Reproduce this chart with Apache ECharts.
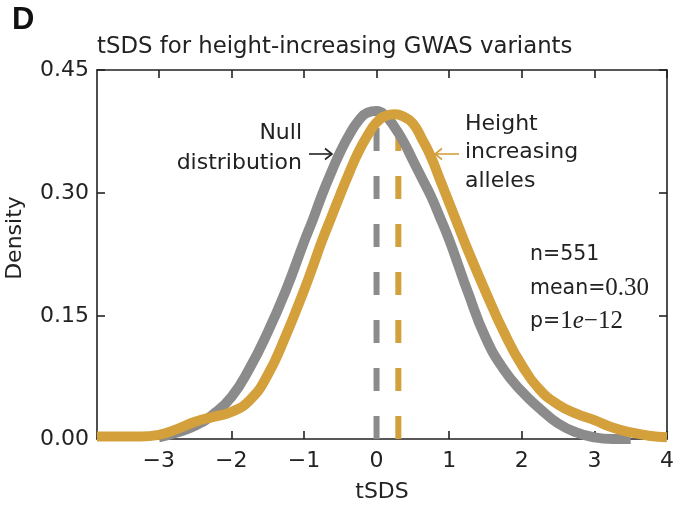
<!DOCTYPE html>
<html>
<head>
<meta charset="utf-8">
<title>tSDS for height-increasing GWAS variants</title>
<script src="https://cdn.jsdelivr.net/npm/echarts@6/dist/echarts.min.js"></script>
<style>
  html, body { margin: 0; padding: 0; background: #fff; }
  #chart { width: 681px; height: 508px; }
</style>
</head>
<body>
<div id="chart"></div>
<script>
// tSDS grid shared by both density curves (finer around the peaks)
const tsds = [-3.85, -3.5, -3.25, -3.0, -2.75, -2.5, -2.25, -2.0, -1.75, -1.5, -1.25,
  -1.0, -0.875, -0.75, -0.625, -0.5, -0.375, -0.25, -0.125, 0, 0.125, 0.25, 0.375, 0.5, 0.625, 0.75, 0.875, 1.0, 1.125,
  1.25, 1.5, 1.75, 2.0, 2.25, 2.5, 2.75, 3.0, 3.25, 3.5, 3.75, 4.0]
// null distribution density (gray), null where the curve is not drawn
const nullDensity = [null, null, null, 0.002, 0.008, 0.016, 0.030, 0.051, 0.086, 0.130, 0.181,
  0.240, 0.268, 0.298, 0.325, 0.350, 0.371, 0.388, 0.398, 0.400, 0.394, 0.380, 0.362, 0.340, 0.318, 0.296, 0.270, 0.243, 0.212,
  0.181, 0.124, 0.085, 0.058, 0.037, 0.019, 0.008, 0.002, 0, 0, null, null]
// height increasing alleles density (gold)
const heightDensity = [0.003, 0.003, 0.003, 0.005, 0.012, 0.021, 0.027, 0.033, 0.047, 0.078, 0.126,
  0.181, 0.211, 0.242, 0.270, 0.298, 0.325, 0.350, 0.370, 0.386, 0.394, 0.396, 0.393, 0.385, 0.366, 0.344, 0.316, 0.288, 0.260,
  0.232, 0.180, 0.131, 0.090, 0.060, 0.042, 0.031, 0.023, 0.014, 0.008, 0.004, 0.002]
// means (dashed lines) and how high the dashes reach
const meanNames = ['Null mean', 'Height mean']
const meanValues = [0, 0.30]
const meanTops = [0.38, 0.38]

const xTicks = [-3, -2, -1, 0, 1, 2, 3, 4]

const GRAY = '#8b8b8b'
const GOLD = '#d3a03b'
const INK = '#222'
const FONT = 'DejaVu Sans, Liberation Sans, Arial, sans-serif'
const MATH = 'Liberation Serif, DejaVu Serif, serif'

const chart = echarts.init(document.getElementById('chart'), null, { renderer: 'canvas' })

const pairs = (ys) => tsds.map((x, i) => [x, ys[i]])
const minus = (v) => (v < 0 ? '\u2212' + Math.abs(v) : String(v))

const frameLine = { show: true, onZero: false, lineStyle: { color: INK, width: 1.6 } }
const frameTick = { show: true, inside: true, length: 8, lineStyle: { color: INK, width: 1.6 } }

chart.setOption({
  animation: false,
  backgroundColor: '#fff',
  textStyle: { fontFamily: FONT },
  grid: { left: 97, right: 14, top: 70, bottom: 69 },
  xAxis: [
    {
      type: 'value',
      min: -3.85,
      max: 4,
      name: 'tSDS',
      nameLocation: 'middle',
      nameGap: 42,
      nameTextStyle: { fontSize: 22, color: INK, fontFamily: FONT },
      axisLine: frameLine,
      axisTick: { ...frameTick, customValues: xTicks },
      axisLabel: {
        customValues: xTicks,
        formatter: minus,
        fontSize: 22,
        color: INK,
        margin: 11,
        fontFamily: FONT
      },
      splitLine: { show: false }
    },
    {
      type: 'value',
      position: 'top',
      min: -3.85,
      max: 4,
      axisLine: frameLine,
      axisTick: { ...frameTick, customValues: xTicks },
      axisLabel: { show: false },
      splitLine: { show: false }
    }
  ],
  yAxis: [
    {
      type: 'value',
      min: 0,
      max: 0.45,
      interval: 0.15,
      axisLine: frameLine,
      axisTick: frameTick,
      axisLabel: {
        formatter: (v) => v.toFixed(2),
        fontSize: 22,
        color: INK,
        margin: 8,
        fontFamily: FONT
      },
      splitLine: { show: false }
    },
    {
      type: 'value',
      position: 'right',
      min: 0,
      max: 0.45,
      interval: 0.15,
      axisLine: frameLine,
      axisTick: frameTick,
      axisLabel: { show: false },
      splitLine: { show: false }
    }
  ],
  series: [
    {
      name: meanNames[0],
      type: 'line',
      data: [[meanValues[0], 0], [meanValues[0], meanTops[0]]],
      symbol: 'none',
      z: 1,
      lineStyle: { color: GRAY, width: 6, type: [23, 25], cap: 'butt' }
    },
    {
      name: meanNames[1],
      type: 'line',
      data: [[meanValues[1], 0], [meanValues[1], meanTops[1]]],
      symbol: 'none',
      z: 1,
      lineStyle: { color: GOLD, width: 6, type: [23, 25], cap: 'butt' }
    },
    {
      name: 'Null distribution',
      type: 'line',
      smooth: 0.5,
      connectNulls: false,
      data: pairs(nullDensity),
      symbol: 'none',
      z: 2,
      lineStyle: { color: GRAY, width: 10 }
    },
    {
      name: 'Height increasing alleles',
      type: 'line',
      smooth: 0.5,
      data: pairs(heightDensity),
      symbol: 'none',
      z: 3,
      lineStyle: { color: GOLD, width: 10 }
    }
  ],
  graphic: [
    {
      type: 'text', left: 12, top: 5,
      style: { text: 'D', fontSize: 31, fontWeight: 'bold', fill: '#111', fontFamily: 'Liberation Sans Narrow, Liberation Sans, Arial, sans-serif' }
    },
    {
      type: 'text', x: 97, y: 47,
      style: { text: 'tSDS for height-increasing GWAS variants', verticalAlign: 'middle', fontSize: 22.8, fill: INK, fontFamily: FONT }
    },
    {
      type: 'text', x: 15, y: 238, rotation: Math.PI / 2,
      style: { text: 'Density', align: 'center', verticalAlign: 'middle', fontSize: 22, fill: INK, fontFamily: FONT }
    },
    {
      type: 'text', x: 302, y: 118,
      style: { text: 'Null\ndistribution', align: 'right', lineHeight: 30, fontSize: 22, fill: INK, fontFamily: FONT }
    },
    {
      type: 'group',
      children: [
        { type: 'line', shape: { x1: 309, y1: 154, x2: 332, y2: 154 }, style: { stroke: INK, lineWidth: 1.6 } },
        { type: 'polyline', shape: { points: [[325, 148.5], [332, 154], [325, 159.5]] }, style: { stroke: INK, lineWidth: 1.6, fill: null } }
      ]
    },
    {
      type: 'text', x: 465, y: 110,
      style: { text: 'Height\nincreasing\nalleles', align: 'left', lineHeight: 28.5, fontSize: 22, fill: INK, fontFamily: FONT }
    },
    {
      type: 'group',
      children: [
        { type: 'line', shape: { x1: 435, y1: 154, x2: 459, y2: 154 }, style: { stroke: GOLD, lineWidth: 1.6 } },
        { type: 'polyline', shape: { points: [[442, 148.5], [435, 154], [442, 159.5]] }, style: { stroke: GOLD, lineWidth: 1.6, fill: null } }
      ]
    },
    {
      type: 'text', x: 530, y: 238,
      style: {
        text: '{s|n=551}\n{s|mean=}{m|0.30}\n{s|p=}{m|1}{i|e}{m|\u221212}',
        lineHeight: 33.5,
        rich: {
          s: { fontSize: 20.5, fill: INK, fontFamily: FONT, lineHeight: 33.5 },
          m: { fontSize: 25, fill: INK, fontFamily: MATH, lineHeight: 33.5 },
          i: { fontSize: 25, fill: INK, fontFamily: MATH, fontStyle: 'italic', lineHeight: 33.5 }
        }
      }
    }
  ]
})
</script>
</body>
</html>
